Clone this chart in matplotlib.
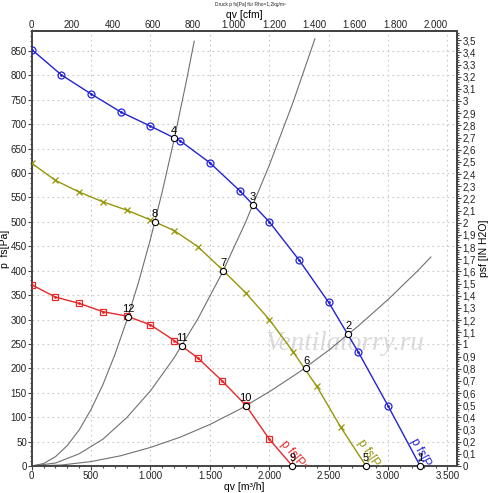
#!/usr/bin/env python
# coding:utf-8
"""plot.py - fan curves p fs over qv with system curves"""

import matplotlib
matplotlib.use('Agg')
import matplotlib.pyplot as plt
from matplotlib.ticker import MultipleLocator, FixedLocator, FuncFormatter

# fan curves, p fs [Pa] over qv [m3/h]
q_high = [0, 250, 500, 750, 1000, 1250, 1500, 1750, 2000, 2250, 2500, 2750, 3000, 3270]
p_high = [853, 801, 762, 725, 696, 666, 621, 564, 500, 422, 335, 233, 123, 0]

q_mid = [0, 200, 400, 600, 800, 1000, 1200, 1400, 1600, 1800, 2000, 2200, 2400, 2600, 2814]
p_mid = [620, 585, 561, 541, 524, 504, 482, 449, 403, 355, 300, 234, 163, 80, 0]

q_low = [0, 200, 400, 600, 800, 1000, 1200, 1400, 1600, 1800, 2000, 2194]
p_low = [371, 346, 333, 316, 307, 289, 257, 221, 175, 125, 55, 0]

# system curves (grey)
q_sys1 = [0, 100, 200, 300, 400, 500, 600, 700, 800, 900, 1000, 1100, 1200, 1300, 1368]
p_sys1 = [0, 5, 19, 42, 74, 116, 167, 228, 298, 377, 465, 563, 670, 786, 870]

q_sys2 = [0, 200, 400, 600, 800, 1000, 1200, 1400, 1600, 1800, 2000, 2200, 2384]
p_sys2 = [0, 6, 25, 55, 99, 154, 222, 302, 394, 499, 616, 745, 875]

q_sys3 = [0, 250, 500, 750, 1000, 1250, 1500, 1750, 2000, 2250, 2500, 2750, 3000, 3250, 3360]
p_sys3 = [0, 2, 9, 21, 38, 59, 85, 116, 152, 192, 237, 287, 341, 400, 428]

# operating points
op_no = ['1', '2', '3', '4', '5', '6', '7', '8', '9', '10', '11', '12']
op_q = [3268, 2665, 1860, 1200, 2814, 2309, 1613, 1038, 2194, 1801, 1263, 813]
op_p = [0, 270, 535, 671, 0, 200, 400, 500, 0, 123, 246, 306]

# secondary scales
cfm_ticks = [0, 200, 400, 600, 800, 1000, 1200, 1400, 1600, 1800, 2000]
inh2o_ticks = [i / 10 for i in range(36)]

curve_label = 'p fs[Pa]'

BLUE = '#2323d2'
OLIVE = '#96960a'
RED = '#e62828'
GREY = '#707070'
AXC = '#444444'


def thousands(v, pos=None):
  return '{:,}'.format(int(round(v))).replace(',', '.')


def decimal_comma(v, pos=None):
  if abs(v - round(v)) < 1e-6:
    return str(int(round(v)))
  return '{:.1f}'.format(v).replace('.', ',')


def main():
  plt.rcParams['font.family'] = ['Liberation Sans', 'DejaVu Sans']
  fig = plt.figure(figsize=(5.0, 4.93), dpi=100)
  ax = fig.add_axes([0.0634, 0.0548, 0.8506, 0.8824])
  ax.set_xlim(0, 3580)
  ax.set_ylim(0, 891)

  ax.grid(True, color='#c8c8c8', linestyle=(0, (1.5, 3)), linewidth=0.8)
  ax.xaxis.set_major_locator(MultipleLocator(500))
  ax.xaxis.set_minor_locator(MultipleLocator(100))
  ax.yaxis.set_major_locator(MultipleLocator(50))
  ax.yaxis.set_minor_locator(MultipleLocator(10))
  ax.xaxis.set_major_formatter(FuncFormatter(thousands))

  # system curves
  for qs, ps in ((q_sys1, p_sys1), (q_sys2, p_sys2), (q_sys3, p_sys3)):
    ax.plot(qs, ps, color=GREY, linewidth=0.8, zorder=2)

  # fan curves
  ax.plot(q_high, p_high, color=BLUE, linewidth=1.0, zorder=3)
  ax.plot(q_high[:-1], p_high[:-1], linestyle='none', marker='o', markersize=5,
          markerfacecolor='none', markeredgecolor=BLUE, markeredgewidth=0.9, zorder=4)
  ax.plot(q_high[:-1], p_high[:-1], linestyle='none', marker='.', markersize=2,
          color=BLUE, zorder=4)

  ax.plot(q_mid, p_mid, color=OLIVE, linewidth=1.0, zorder=3)
  ax.plot(q_mid[:-1], p_mid[:-1], linestyle='none', marker='x', markersize=5,
          color=OLIVE, markeredgewidth=0.9, zorder=4)

  ax.plot(q_low, p_low, color=RED, linewidth=1.0, zorder=3)
  ax.plot(q_low[:-1], p_low[:-1], linestyle='none', marker='s', markersize=5,
          markerfacecolor='none', markeredgecolor=RED, markeredgewidth=0.9, zorder=4)
  ax.plot(q_low[:-1], p_low[:-1], linestyle='none', marker='.', markersize=2,
          color=RED, zorder=4)

  # curve names along the lower ends
  for q0, p0, rot, col in ((3212, 55, -62, BLUE), (2763, 52, -56, OLIVE), (2115, 49, -50, RED)):
    ax.text(q0, p0, curve_label, color=col, fontsize=8.5, rotation=rot,
            rotation_mode='anchor', ha='left', va='center', clip_on=True, zorder=5)

  # operating points
  ax.plot(op_q, op_p, linestyle='none', marker='o', markersize=4.5,
          markerfacecolor='white', markeredgecolor='black', markeredgewidth=0.8,
          zorder=6, clip_on=False)
  for name, q, p in zip(op_no, op_q, op_p):
    ax.annotate(name, (q, p), xytext=(0, 2), textcoords='offset points',
                ha='center', va='bottom', fontsize=8, color='black', zorder=7)

  # watermark
  ax.text(2640, 250, 'Ventilatorry.ru', fontsize=19.5, style='italic',
          family=['Liberation Serif', 'DejaVu Serif'], color='#dadada',
          ha='center', va='center', zorder=1)

  for side in ax.spines.values():
    side.set_color(AXC)
    side.set_linewidth(1.4)
  ax.tick_params(which='both', direction='out', colors=AXC, labelcolor='#222222',
                 labelsize=7, width=0.8)
  ax.tick_params(which='major', length=3, pad=0.5)
  ax.tick_params(which='minor', length=1.5)
  ax.set_xlabel('qv [m³/h]', fontsize=7.5, labelpad=0.5)
  ax.set_ylabel('p  fs[Pa]', fontsize=7.5)
  ax.yaxis.set_label_coords(-0.05, 0.5)

  # top axis in cfm
  top = ax.secondary_xaxis('top', functions=(lambda q: q / 1.699, lambda c: c * 1.699))
  top.xaxis.set_major_locator(FixedLocator(cfm_ticks))
  top.xaxis.set_minor_locator(FixedLocator([c + 50 * k for c in cfm_ticks for k in (1, 2, 3)
                                            if c + 50 * k <= 2100]))
  top.xaxis.set_major_formatter(FuncFormatter(thousands))
  top.tick_params(which='both', direction='out', colors=AXC, labelcolor='#222222',
                  labelsize=7, width=0.8, pad=-1)
  top.tick_params(which='major', length=1.5)
  top.tick_params(which='minor', length=1)
  top.set_xlabel('qv [cfm]', fontsize=7.5, labelpad=1.5)
  top.spines['top'].set_color(AXC)
  top.spines['top'].set_linewidth(1.4)

  # right axis in inch water column
  right = ax.secondary_yaxis('right', functions=(lambda p: p / 249.09, lambda w: w * 249.09))
  right.yaxis.set_major_locator(FixedLocator(inh2o_ticks))
  right.yaxis.set_minor_locator(FixedLocator([w + 0.02 * k for w in inh2o_ticks
                                              for k in (1, 2, 3, 4)]))
  right.yaxis.set_major_formatter(FuncFormatter(decimal_comma))
  right.tick_params(which='both', direction='out', colors=AXC, labelcolor='#222222',
                    labelsize=7, width=0.8, pad=1)
  right.tick_params(which='major', length=3)
  right.tick_params(which='minor', length=1.5)
  right.set_ylabel('psf [IN H2O]', fontsize=7.5, labelpad=2)
  right.spines['right'].set_color(AXC)
  right.spines['right'].set_linewidth(1.4)

  fig.text(0.5, 0.995, 'Druck p fs[Pa] für Rho=1,2kg/m³', fontsize=3.5,
           ha='center', va='top', color='#222222')

  fig.savefig('out.png', dpi=100)
  plt.close(fig)


if __name__ == '__main__':
  main()
